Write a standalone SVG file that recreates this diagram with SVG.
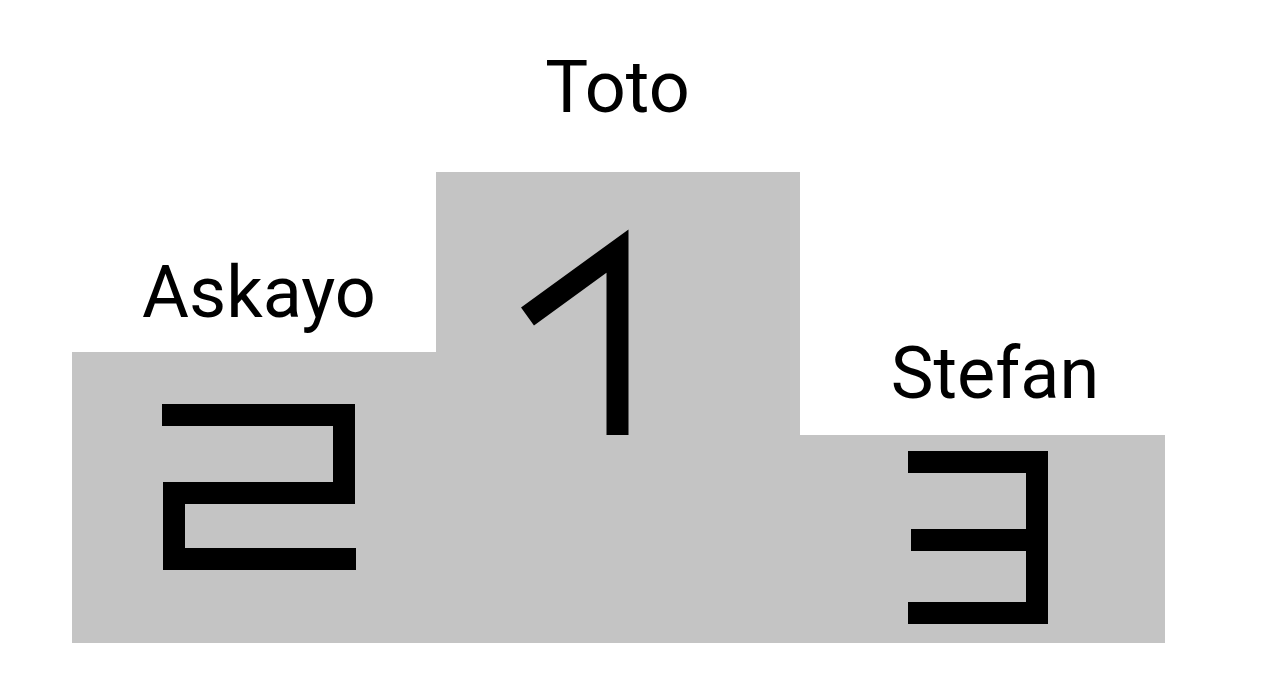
<svg xmlns="http://www.w3.org/2000/svg" width="1261" height="689" viewBox="0 0 1261 689">
<style>
.block{fill:#c4c4c4}
.digit{fill:none;stroke:#000;stroke-width:22;stroke-linecap:butt;stroke-linejoin:miter;stroke-miterlimit:10}
.name{font-family:Roboto,"Liberation Sans",sans-serif;font-size:72px;fill:#000;text-anchor:middle}
</style>
<rect width="1261" height="689" fill="#fff"/>
<g id="second">
<rect class="block" x="72" y="352" width="365" height="291"/>
<polyline class="digit" points="162,415 344,415 344,493 174,493 174,559 356,559"/>
<text class="name" x="259" y="317">Askayo</text>
</g>
<g id="first">
<rect class="block" x="436" y="172" width="364" height="471"/>
<polyline class="digit" points="527.5,316.5 617.5,251 617.5,435" stroke-width="23"/>
<text class="name" x="617.5" y="112">Toto</text>
</g>
<g id="third">
<rect class="block" x="799" y="435" width="366" height="208"/>
<polyline class="digit" points="908,462 1037,462 1037,613 908,613"/>
<line class="digit" x1="911" y1="540" x2="1037" y2="540"/>
<text class="name" x="995" y="398">Stefan</text>
</g>
</svg>
